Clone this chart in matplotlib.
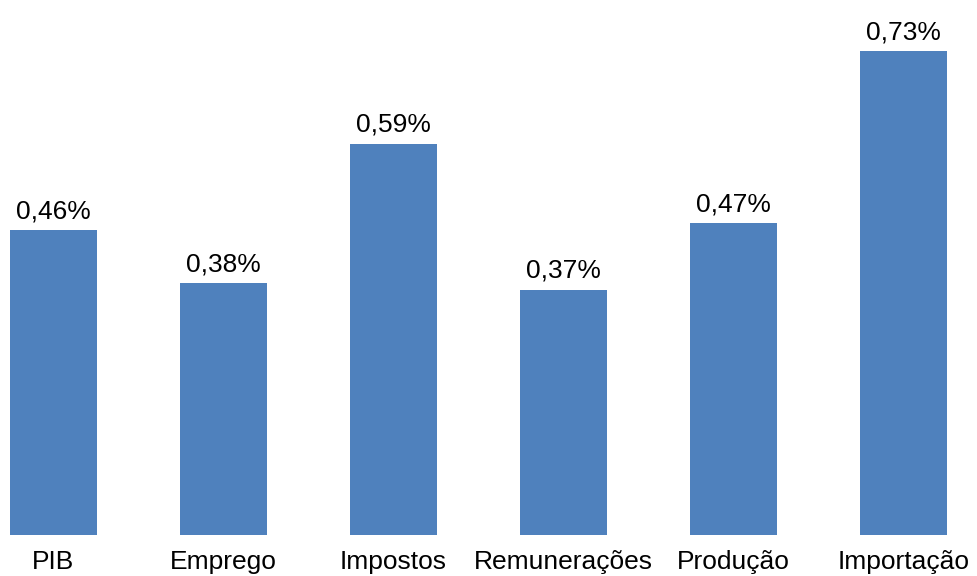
import matplotlib.pyplot as plt
import numpy as np

categories = ["PIB", "Emprego", "Impostos", "Remunerações", "Produção", "Importação"]
values = [0.46, 0.38, 0.59, 0.37, 0.47, 0.73]
value_labels = ["0,46%", "0,38%", "0,59%", "0,37%", "0,47%", "0,73%"]

BAR = "#4F81BD"
W, H = 978, 576

plt.rcParams["font.family"] = ["Liberation Sans", "DejaVu Sans"]

fig = plt.figure(figsize=(W / 100, H / 100), dpi=100)
ax = fig.add_axes([0, 41 / H, 1, 535 / H])

x = np.arange(len(categories))
ax.bar(x, values, width=0.51, color=BAR)

for xi, v, lab in zip(x, values, value_labels):
    ax.annotate(lab, (xi, v), xytext=(0, 5), textcoords="offset points",
                ha="center", va="bottom", fontsize=19)

ax.set_xlim(-53.5 / 170, (W - 53.5) / 170)
ax.set_ylim(0, 535 / 663)
ax.set_xticks(x)
ax.set_xticklabels(categories, fontsize=19)
ax.tick_params(axis="x", length=0, pad=11)
ax.set_yticks([])
for sp in ax.spines.values():
    sp.set_visible(False)

fig.savefig("out.png", dpi=100)
